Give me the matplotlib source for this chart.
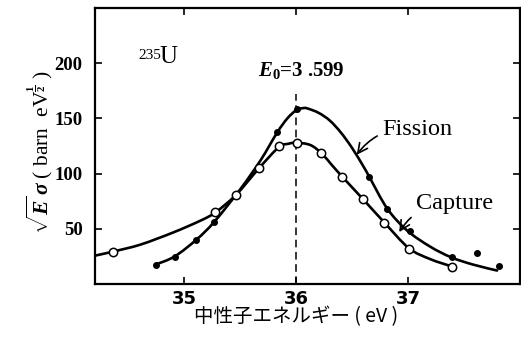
import matplotlib
matplotlib.use("Agg")
import matplotlib.pyplot as plt
from matplotlib.path import Path
from matplotlib.patches import PathPatch
import numpy as np

plt.rcParams['mathtext.fontset'] = 'custom'
plt.rcParams['mathtext.rm'] = 'Liberation Serif:bold'
plt.rcParams['mathtext.it'] = 'Liberation Serif:italic:bold'
plt.rcParams['mathtext.bf'] = 'Liberation Serif:bold'

# measured points (neutron energy in eV, sqrt(E)*sigma)
capture_x = [34.363, 35.277, 35.462, 35.670, 35.846, 36.003, 36.223, 36.411, 36.598, 36.788, 37.006, 37.393]
capture_y = [29.4, 64.9, 80.9, 105.3, 125.2, 127.9, 118.6, 96.6, 76.7, 55.6, 31.5, 15.8]
fission_x = [34.741, 34.911, 35.107, 35.268, 35.830, 36.009, 36.652, 36.812, 37.012, 37.390, 37.616, 37.815]
fission_y = [17.6, 24.9, 40.2, 56.5, 137.4, 158.4, 96.7, 68.3, 48.4, 24.2, 28.5, 16.7]

# fitted curves
capture_fit_x = [34.205, 34.363, 34.607, 34.902, 35.143, 35.277, 35.462, 35.670, 35.844, 35.929, 36.000,
                 36.125, 36.223, 36.319, 36.415, 36.598, 36.788, 37.006, 37.196, 37.393]
capture_fit_y = [25.8, 29.4, 35.7, 46.8, 57.4, 64.9, 80.9, 105.3, 124.0, 127.0, 128.0,
                 125.9, 118.6, 107.6, 96.7, 76.7, 55.6, 32.5, 22.6, 15.8]
fission_fit_x = [34.741, 34.911, 35.107, 35.268, 35.500, 35.680, 35.830, 35.920, 36.000, 36.060, 36.100,
                 36.200, 36.300, 36.400, 36.500, 36.600, 36.652, 36.813, 36.991, 37.196, 37.384, 37.580, 37.795]
fission_fit_y = [17.6, 24.9, 40.2, 56.5, 86.0, 112.0, 137.4, 150.0, 157.5, 159.3, 159.0,
                 155.0, 148.0, 137.0, 123.0, 106.5, 97.2, 68.3, 48.4, 33.9, 24.2, 17.6, 12.2]

E0 = 36.0
xticks = [35, 36, 37]
yticks = [50, 100, 150, 200]


def smooth_path(xs, ys):
    # Catmull-Rom through the knots, written as cubic Bezier segments
    p = np.column_stack([xs, ys])
    p = np.vstack([p[0], p, p[-1]])
    verts = [p[1]]
    codes = [Path.MOVETO]
    for i in range(1, len(p) - 2):
        c1 = p[i] + (p[i + 1] - p[i - 1]) / 6
        c2 = p[i + 1] - (p[i + 2] - p[i]) / 6
        verts += [c1, c2, p[i + 1]]
        codes += [Path.CURVE4] * 3
    return Path(verts, codes)


fig = plt.figure(figsize=(5.21, 3.43), dpi=100)
ax = fig.add_axes([95 / 521, 1 - 284 / 343, 425 / 521, 276 / 343])
ax.set_xlim(34.2, 38.0)
ax.set_ylim(0, 250)

for fx, fy in [(capture_fit_x, capture_fit_y), (fission_fit_x, fission_fit_y)]:
    ax.add_patch(PathPatch(smooth_path(fx, fy), fc='none', ec='black', lw=1.9,
                           capstyle='round', joinstyle='round', zorder=2))
ax.plot(fission_x, fission_y, 'o', color='black', ms=4, zorder=3)
ax.plot(capture_x, capture_y, 'o', mfc='white', mec='black', mew=1.1, ms=6, zorder=4)

ax.plot([E0, E0], [0, 172], color='black', lw=1.1, ls=(0, (5, 3)), zorder=1)

for side in ['left', 'bottom', 'top', 'right']:
    ax.spines[side].set_linewidth(1.6)

ax.set_xticks(xticks)
ax.set_yticks(yticks)
ax.tick_params(direction='in', length=5, width=1.2, top=True, right=True)
ax.tick_params(axis='y', pad=9)
ax.tick_params(axis='x', pad=4)
for lab in ax.get_yticklabels():
    lab.set_family('Liberation Serif')
    lab.set_fontweight('bold')
    lab.set_fontsize(13.5)
for lab in ax.get_xticklabels():
    lab.set_family(['Liberation Sans Narrow', 'DejaVu Sans'])
    lab.set_fontweight('bold')
    lab.set_fontsize(13)

# labels and annotations
ax.text(34.59, 204, '235', fontsize=11, family='Liberation Serif', ha='left', va='baseline')
ax.text(34.78, 200, 'U', fontsize=18, family='Liberation Serif', ha='left', va='baseline')
ax.text(36.04, 193, r'$E_0$=3 .599', fontsize=15, family='Liberation Serif', fontweight='bold',
        ha='center', va='center')

ax.annotate('Fission', xy=(36.54, 117), xytext=(36.77, 140), fontsize=17.5, family='Liberation Serif',
            ha='left', va='center',
            arrowprops=dict(arrowstyle='->', lw=1.2, color='black', connectionstyle='arc3,rad=0.3',
                            shrinkA=2, shrinkB=0))
ax.annotate('Capture', xy=(36.92, 47), xytext=(37.07, 73), fontsize=17.5, family='Liberation Serif',
            ha='left', va='center',
            arrowprops=dict(arrowstyle='->', lw=1.2, color='black', connectionstyle='arc3,rad=0.3',
                            shrinkA=2, shrinkB=0))

fig.text(40 / 521, 1 - 152 / 343, r'$\sqrt{E}\,\sigma$ ( barn  eV$^{\frac{1}{2}}$ )', rotation=90,
         fontsize=15.5, family='Liberation Serif', ha='center', va='center')
fig.text(296 / 521, 1 - 317 / 343, '中性子エネルギー ( eV )', fontsize=14,
         family=['Noto Sans CJK JP', 'DejaVu Sans'], ha='center', va='center')

fig.savefig('out.png', dpi=100)
